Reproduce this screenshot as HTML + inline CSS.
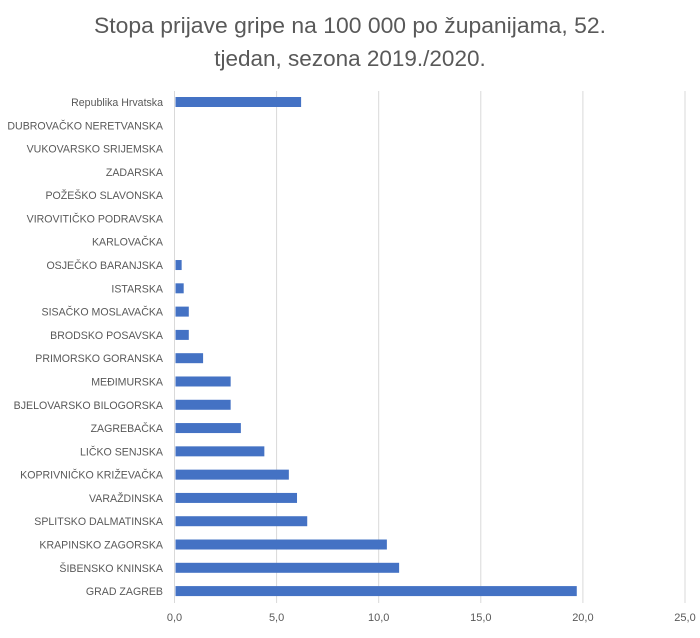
<!DOCTYPE html>
<html><head><meta charset="utf-8"><style>
body{margin:0;background:#fff;}
svg{display:block;font-family:"Liberation Sans",sans-serif;}
</style></head><body>
<svg id="chart" width="700" height="638" viewBox="0 0 700 638" xmlns="http://www.w3.org/2000/svg">
<rect width="700" height="638" fill="#fff"/>
<text x="350" y="33" text-anchor="middle" font-size="22.5" fill="#595959" textLength="512" lengthAdjust="spacingAndGlyphs">Stopa prijave gripe na 100 000 po županijama, 52.</text>
<text x="350" y="66" text-anchor="middle" font-size="22.5" fill="#595959">tjedan, sezona 2019./2020.</text>
<g id="grid"></g><g id="bars"></g><g id="ylabels"></g><g id="xlabels"></g>
</svg>
<script>
const categories=["Republika Hrvatska","DUBROVAČKO NERETVANSKA","VUKOVARSKO SRIJEMSKA","ZADARSKA","POŽEŠKO SLAVONSKA","VIROVITIČKO PODRAVSKA","KARLOVAČKA","OSJEČKO BARANJSKA","ISTARSKA","SISAČKO MOSLAVAČKA","BRODSKO POSAVSKA","PRIMORSKO GORANSKA","MEĐIMURSKA","BJELOVARSKO BILOGORSKA","ZAGREBAČKA","LIČKO SENJSKA","KOPRIVNIČKO KRIŽEVAČKA","VARAŽDINSKA","SPLITSKO DALMATINSKA","KRAPINSKO ZAGORSKA","ŠIBENSKO KNINSKA","GRAD ZAGREB"];
const values=[6.2,0,0,0,0,0,0,0.35,0.45,0.7,0.7,1.4,2.75,2.75,3.25,4.4,5.6,6.0,6.5,10.4,11.0,19.7];
const ticks=[0,5,10,15,20,25];
const tickLabels=["0,0","5,0","10,0","15,0","20,0","25,0"];
const NS="http://www.w3.org/2000/svg";
const x0=174.5,x1=685,xmax=25,yTop=91,yBot=603,rowH=23.29,firstY=102;
const xs=v=>x0+(x1-x0)*v/xmax;
const ys=i=>firstY+i*rowH;
function mk(t,a,p){const e=document.createElementNS(NS,t);for(const k in a)e.setAttribute(k,a[k]);p.appendChild(e);return e;}
const g=document.getElementById('grid'),b=document.getElementById('bars'),yl=document.getElementById('ylabels'),xl=document.getElementById('xlabels');
ticks.forEach((t,i)=>{
 const l=mk('line',{x1:xs(t),x2:xs(t),y1:yTop,y2:yBot,stroke:'#d9d9d9','stroke-width':1},g);
 
 
 const tx=mk('text',{x:xs(t),y:621,'text-anchor':'middle','font-size':11,fill:'#595959'},xl);
 tx.textContent=tickLabels[i];
 
 
});
categories.forEach((c,i)=>{
 const r=mk('rect',{x:x0+1,y:ys(i)-5,width:Math.max(0,xs(values[i])-x0-1),height:10,fill:'#4472c4'},b);
 
 
 const t=mk('text',{x:163,y:ys(i)+4,'text-anchor':'end','font-size':10.6,fill:'#595959'},yl);
 t.textContent=c;
 
 
});
</script>
</body></html>
